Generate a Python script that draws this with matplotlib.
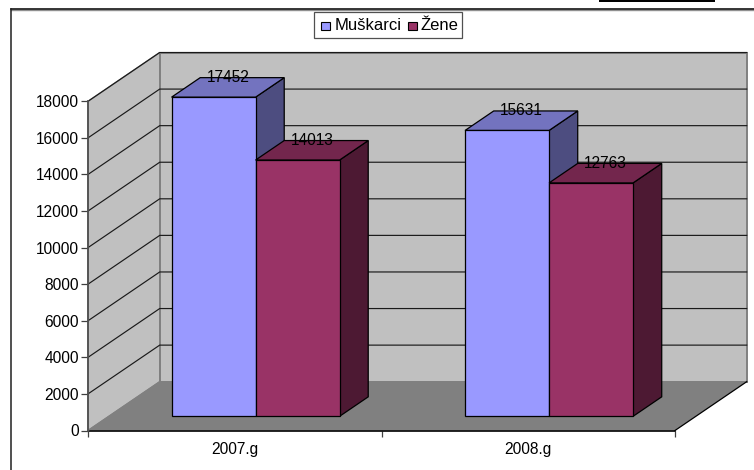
import matplotlib
matplotlib.use("Agg")
import matplotlib.pyplot as plt
from matplotlib.patches import Polygon, Rectangle
from matplotlib.transforms import Affine2D

categories = ["2007.g", "2008.g"]
series_names = ["Muškarci", "Žene"]
muskarci = [17452, 15631]
zene = [14013, 12763]
y_ticks = list(range(0, 18001, 2000))

W, H = 754, 470
plt.rcParams["font.family"] = ["Liberation Sans", "DejaVu Sans"]
FS = 11.2
fig = plt.figure(figsize=(W / 100, H / 100), dpi=100, facecolor="white")

# axes position: x 88..675 px, y 430.5..101.3 px
L, R, B, T = 88.0, 675.0, 430.5, 101.3
ax = fig.add_axes([L / W, 1 - B / H, (R - L) / W, (B - T) / H])
ax.set_xlim(0, 2)
ax.set_ylim(0, 18000)
ax.patch.set_visible(False)
for s in ax.spines.values():
    s.set_visible(False)

# oblique depth in data units
DX = 71.7 / ((R - L) / 2)
DY = 48.8 / ((B - T) / 18000)


def proj(x, y, d):
    """d = depth fraction 0 (front) .. 1 (back)."""
    return (x + DX * d, y + DY * d)


def poly(pts, **kw):
    p = Polygon(pts, closed=True, clip_on=False, **kw)
    ax.add_patch(p)
    return p


WALL = "#C0C0C0"
FLOOR = "#808080"
EDGE = "#808080"

# walls and floor
poly([proj(0, 0, 0), proj(0, 0, 1), proj(0, 18000, 1), proj(0, 18000, 0)],
     facecolor=WALL, edgecolor=EDGE, linewidth=1.0, zorder=1)
poly([proj(0, 0, 1), proj(2, 0, 1), proj(2, 18000, 1), proj(0, 18000, 1)],
     facecolor=WALL, edgecolor=EDGE, linewidth=1.4, zorder=1)
poly([proj(0, 0, 0), proj(2, 0, 0), proj(2, 0, 1), proj(0, 0, 1)],
     facecolor=FLOOR, edgecolor="none", zorder=1.5)

# gridlines
for v in y_ticks[1:]:
    xs = [proj(0, v, 0), proj(0, v, 1), proj(2, v, 1)]
    ax.plot([p[0] for p in xs], [p[1] for p in xs], color="#1a1a1a",
            linewidth=0.85, clip_on=False, zorder=2, solid_joinstyle="miter")

# floor edges and axes
ax.plot([0, 2], [0, 0], color="black", lw=1.2, clip_on=False, zorder=3)
a, b = proj(2, 0, 0), proj(2, 0, 1)
ax.plot([a[0], b[0]], [a[1], b[1]], color="black", lw=0.9, clip_on=False, zorder=3)
a, b = proj(0, 0, 0), proj(0, 0, 1)
ax.plot([a[0], b[0]], [a[1], b[1]], color="#808080", lw=0.9, clip_on=False, zorder=3)
ax.plot([0, 0], [0, 18000], color="#505050", lw=1.3, clip_on=False, zorder=3)

# bars
BAR_W = 84.0 / ((R - L) / 2)
D0, D1 = 0.29, 0.69
colors = [("#9999FF", "#7373BF", "#4D4D80"), ("#993366", "#73264D", "#4D1933")]
offsets = [-1, 0]
for vals, (cf, ct, cs), off in zip([muskarci, zene], colors, offsets):
    for i, v in enumerate(vals):
        x_left = i + 0.5 + off * BAR_W
        x_right = x_left + BAR_W
        kw = dict(edgecolor="black", linewidth=0.9, joinstyle="miter",
                  zorder=4 + off * 0.1)
        poly([proj(x_right, 0, D0), proj(x_right, 0, D1), proj(x_right, v, D1), proj(x_right, v, D0)],
             facecolor=cs, **kw)
        poly([proj(x_left, v, D0), proj(x_right, v, D0), proj(x_right, v, D1), proj(x_left, v, D1)],
             facecolor=ct, **kw)
        poly([proj(x_left, 0, D0), proj(x_right, 0, D0), proj(x_right, v, D0), proj(x_left, v, D0)],
             facecolor=cf, **kw)
        cx = proj((x_left + x_right) / 2, v, (D0 + D1) / 2)[0]
        cy = proj(x_left, v, D1)[1]
        ax.text(cx, cy, str(v), ha="center", va="center", fontsize=FS,
                color="black", zorder=6, clip_on=False)

# ticks
ax.set_yticks(y_ticks)
ax.set_yticklabels([str(v) for v in y_ticks], fontsize=FS)
ax.tick_params(axis="y", length=5.0, width=0.9, color="#404040", pad=1.5)
ax.set_xticks([0, 1, 2])
ax.set_xticklabels(["", "", ""])
ax.tick_params(axis="x", which="major", length=4.2, width=0.9, color="#404040")
ax.set_xticks([0.5, 1.5], minor=True)
ax.set_xticklabels(categories, minor=True, fontsize=FS)
ax.tick_params(axis="x", which="minor", length=0, pad=8.5)

# page furniture in pixel coordinates
px = Affine2D().scale(1, -1).translate(0, H)


def fline(xs, ys, color, lw):
    fig.add_artist(plt.Line2D(xs, ys, color=color, lw=lw, transform=px))


fline([11, W], [10, 10], "#909090", 1.0)
fline([11, W], [9, 9], "black", 1.1)
fline([11, 11], [9, H], "#202020", 1.1)
fig.add_artist(Rectangle((599, 0), 116, 2.2, facecolor="black", edgecolor="none", transform=px))

# legend
fig.add_artist(Rectangle((314, 12), 148, 26, facecolor="white", edgecolor="#505050", lw=0.9, transform=px))
for name, (cf, _, _), sx, tx in zip(series_names, colors, [320.5, 407.5], [335, 421]):
    fig.add_artist(Rectangle((sx, 21.5), 9, 8, facecolor=cf, edgecolor="black", lw=0.8, transform=px))
    fig.text(tx / W, 1 - 30 / H, name, fontsize=12.0, ha="left", va="baseline", color="black")

fig.savefig("out.png", dpi=100, facecolor="white")
